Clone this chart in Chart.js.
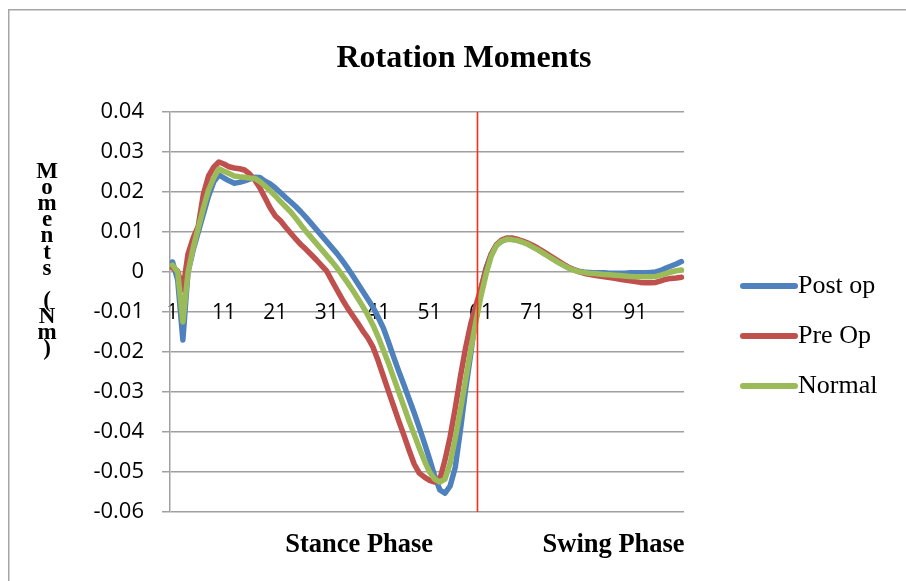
<!DOCTYPE html>
<html>
<head>
<meta charset="utf-8">
<script src="https://cdn.jsdelivr.net/npm/chart.js@4/dist/chart.umd.min.js"></script>
<style>
  html, body { margin: 0; padding: 0; background: #fff; }
  #wrap { width: 906px; height: 581px; position: relative; }
</style>
</head>
<body>
<div id="wrap"><canvas id="rotChart" width="906" height="581"></canvas></div>
<script>
// Data (gait cycle points 1..100)
const cycle = Array.from({ length: 100 }, (_, i) => String(i + 1));

const postOp = [
  0.0025, -0.0020, -0.0170, 0.0000, 0.0055, 0.0100, 0.0145, 0.0190, 0.0225, 0.0243,
  0.0235, 0.0228, 0.0222, 0.0224, 0.0228, 0.0232, 0.0237, 0.0236, 0.0227, 0.0220,
  0.0210, 0.0198, 0.0186, 0.0175, 0.0163, 0.0150, 0.0136, 0.0121, 0.0106, 0.0091,
  0.0076, 0.0061, 0.0046, 0.0029, 0.0011, -0.0008, -0.0028, -0.0048, -0.0068, -0.0088,
  -0.0113, -0.0140, -0.0175, -0.0212, -0.0248, -0.0282, -0.0317, -0.0352, -0.0389, -0.0428,
  -0.0468, -0.0510, -0.0545, -0.0553, -0.0535, -0.0488, -0.0395, -0.0295, -0.0205, -0.0110,
  -0.0045, 0.0010, 0.0045, 0.0068, 0.0077, 0.0082, 0.0082, 0.0080, 0.0076, 0.0071,
  0.0064, 0.0057, 0.0049, 0.0041, 0.0033, 0.0025, 0.0018, 0.0011, 0.0006, 0.0002,
  0.0000, -0.0001, -0.0002, -0.0002, -0.0002, -0.0003, -0.0003, -0.0003, -0.0003, -0.0002,
  -0.0002, -0.0002, -0.0002, -0.0001, 0.0000, 0.0004, 0.0010, 0.0015, 0.0020, 0.0026
];

const preOp = [
  0.0010, 0.0002, -0.0045, 0.0045, 0.0085, 0.0115, 0.0195, 0.0240, 0.0262, 0.0275,
  0.0270, 0.0263, 0.0260, 0.0258, 0.0255, 0.0245, 0.0230, 0.0210, 0.0185, 0.0160,
  0.0140, 0.0128, 0.0112, 0.0097, 0.0082, 0.0068, 0.0056, 0.0043, 0.0030, 0.0016,
  0.0002, -0.0022, -0.0045, -0.0068, -0.0089, -0.0108, -0.0127, -0.0147, -0.0165, -0.0188,
  -0.0222, -0.0260, -0.0298, -0.0335, -0.0372, -0.0408, -0.0445, -0.0480, -0.0503, -0.0513,
  -0.0521, -0.0525, -0.0518, -0.0470, -0.0412, -0.0340, -0.0262, -0.0190, -0.0130, -0.0085,
  -0.0040, 0.0008, 0.0045, 0.0068, 0.0080, 0.0085, 0.0085, 0.0082, 0.0078, 0.0073,
  0.0067, 0.0060, 0.0052, 0.0044, 0.0036, 0.0028, 0.0020, 0.0012, 0.0006, 0.0001,
  -0.0003, -0.0006, -0.0008, -0.0010, -0.0012, -0.0014, -0.0016, -0.0018, -0.0020, -0.0022,
  -0.0024, -0.0026, -0.0027, -0.0027, -0.0026, -0.0022, -0.0018, -0.0016, -0.0015, -0.0013
];

const normal = [
  0.0017, 0.0000, -0.0125, -0.0002, 0.0060, 0.0110, 0.0160, 0.0205, 0.0235, 0.0258,
  0.0252, 0.0246, 0.0240, 0.0238, 0.0237, 0.0235, 0.0234, 0.0226, 0.0215, 0.0203,
  0.0190, 0.0176, 0.0163, 0.0150, 0.0134, 0.0117, 0.0101, 0.0086, 0.0071, 0.0056,
  0.0041, 0.0026, 0.0010, -0.0008, -0.0026, -0.0045, -0.0065, -0.0086, -0.0108, -0.0133,
  -0.0162, -0.0195, -0.0228, -0.0264, -0.0300, -0.0336, -0.0372, -0.0406, -0.0440, -0.0472,
  -0.0500, -0.0518, -0.0525, -0.0518, -0.0478, -0.0415, -0.0345, -0.0270, -0.0195, -0.0125,
  -0.0060, -0.0005, 0.0040, 0.0066, 0.0077, 0.0082, 0.0081, 0.0079, 0.0075, 0.0070,
  0.0063, 0.0056, 0.0048, 0.0040, 0.0032, 0.0024, 0.0017, 0.0010, 0.0005, 0.0001,
  -0.0001, -0.0003, -0.0004, -0.0005, -0.0006, -0.0007, -0.0008, -0.0009, -0.0010, -0.0011,
  -0.0012, -0.0012, -0.0012, -0.0012, -0.0011, -0.0008, -0.0004, 0.0000, 0.0003, 0.0005
];

const seriesNames = ["Post op", "Pre Op", "Normal"];
const seriesColors = ["#4F81BD", "#C0504D", "#9BBB59"];
const phaseLabels = ["Stance Phase", "Swing Phase"];
const toeOffIndex = 59.2; // red divider between stance and swing

const SERIF = '"Liberation Serif", "Times New Roman", serif';
const SANS = '"Open Sans", "Liberation Sans", sans-serif';

// Draws frame, title, stacked y title, phase labels, divider and legend
const decorations = {
  id: "decorations",
  beforeDraw(chart) {
    const c = chart.ctx;
    c.save();
    c.strokeStyle = "#a6a6a6";
    c.lineWidth = 1.5;
    c.strokeRect(8.75, 9.75, 1000, 1000);
    c.restore();
  },
  afterDatasetsDraw(chart) {
    const c = chart.ctx;
    const area = chart.chartArea;
    const xs = chart.scales.x;
    c.save();

    // stance / swing divider
    const xr = Math.round(xs.getPixelForValue(toeOffIndex)) + 0.5;
    c.strokeStyle = "#FF2A1A";
    c.lineWidth = 1.6;
    c.beginPath();
    c.moveTo(xr, area.top);
    c.lineTo(xr, area.bottom);
    c.stroke();

    c.fillStyle = "#000";
    c.textAlign = "center";
    c.textBaseline = "alphabetic";

    // title
    c.font = "bold 32px " + SERIF;
    c.fillText("Rotation Moments", 464, 67);

    // phase labels
    c.font = "bold 26.5px " + SERIF;
    c.fillText(phaseLabels[0], xs.getPixelForValue(36.3), 552);
    c.fillText(phaseLabels[1], xs.getPixelForValue(85.8), 552);

    // stacked y title
    const chars = "Moments (Nm)".split("");
    c.font = "bold 23px " + SERIF;
    chars.forEach((ch, k) => {
      c.fillText(ch, 47, 178 + k * 16.1);
    });

    // legend
    c.textAlign = "left";
    c.textBaseline = "middle";
    c.font = "26px " + SERIF;
    c.lineCap = "round";
    chart.data.datasets.forEach((ds, k) => {
      const y = 286 + k * 50;
      c.strokeStyle = ds.borderColor;
      c.lineWidth = 6;
      c.beginPath();
      c.moveTo(743, y);
      c.lineTo(795, y);
      c.stroke();
      c.fillText(ds.label, 798, y);
    });

    c.restore();
  },
};

const ctx = document.getElementById("rotChart").getContext("2d");

const datasets = [postOp, preOp, normal].map((vals, k) => ({
  label: seriesNames[k],
  data: vals,
  borderColor: seriesColors[k],
  backgroundColor: seriesColors[k],
  borderWidth: 5.5,
  pointRadius: 0,
  tension: 0,
  borderCapStyle: "round",
  borderJoinStyle: "round",
  order: 3 - k,
}));

new Chart(ctx, {
  type: "line",
  data: { labels: cycle, datasets },
  options: {
    responsive: false,
    animation: false,
    layout: { padding: { left: 0, top: 112, right: 222, bottom: 69 } },
    plugins: {
      legend: { display: false },
      title: { display: false },
      tooltip: { enabled: false },
    },
    scales: {
      x: {
        type: "category",
        position: { y: 0 },
        offset: true,
        grid: { display: false, drawTicks: false },
        border: { display: false },
        ticks: {
          autoSkip: false,
          maxRotation: 0,
          padding: 28,
          color: "#000",
          font: { family: SANS, size: 21 },
          callback: (v, i) => (i % 10 === 0 ? cycle[i] : null),
        },
      },
      y: {
        min: -0.06,
        max: 0.04,
        afterFit: (s) => { s.width = 170; },
        grid: { color: "#a0a0a0", lineWidth: 1.5, tickLength: 8, drawTicks: true },
        border: { color: "#a0a0a0", width: 1.5 },
        ticks: {
          stepSize: 0.01,
          padding: 18,
          color: "#000",
          font: { family: SANS, size: 22 },
          callback: (v) => String(Number(v.toFixed(2))),
        },
      },
    },
  },
  plugins: [decorations],
});
</script>
</body>
</html>
